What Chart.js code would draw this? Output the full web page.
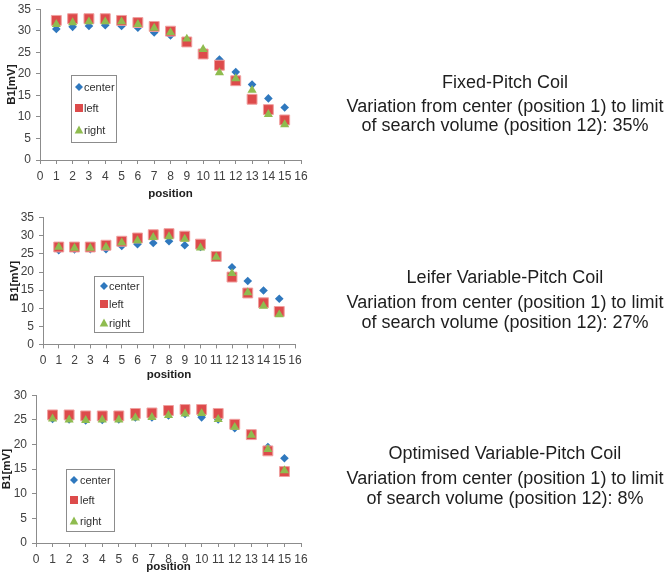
<!DOCTYPE html>
<html>
<head>
<meta charset="utf-8">
<script src="https://cdn.jsdelivr.net/npm/chart.js@4.4.0/dist/chart.umd.min.js"></script>
<style>
  body { margin: 0; background: #fff; width: 666px; height: 573px; overflow: hidden; position: relative; }
  canvas { position: absolute; left: 0; }
  .note { position: absolute; left: 305px; width: 400px; text-align: center; font: 18px 'Liberation Sans', Arial, sans-serif; color: #1e1e1e; line-height: 20px; white-space: nowrap; }
</style>
</head>
<body>
<canvas id="fixedChart"></canvas>
<canvas id="leiferChart"></canvas>
<canvas id="optChart"></canvas>

<div class="note" style="top:72px">Fixed-Pitch Coil</div>
<div class="note" style="top:96px">Variation from center (position 1) to limit</div>
<div class="note" style="top:115px">of search volume (position 12): 35%</div>

<div class="note" style="top:267px">Leifer Variable-Pitch Coil</div>
<div class="note" style="top:292px">Variation from center (position 1) to limit</div>
<div class="note" style="top:312px">of search volume (position 12): 27%</div>

<div class="note" style="top:443px">Optimised Variable-Pitch Coil</div>
<div class="note" style="top:468px">Variation from center (position 1) to limit</div>
<div class="note" style="top:488px">of search volume (position 12): 8%</div>

<script>
/* Data */
const positions = [1, 2, 3, 4, 5, 6, 7, 8, 9, 10, 11, 12, 13, 14, 15]
const seriesNames = ['center', 'left', 'right']

// Fixed-Pitch Coil
const fixedCenter = [30.4, 30.9, 31.1, 31.3, 31.1, 30.7, 29.6, 28.9, 27.6, 25.0, 23.3, 20.4, 17.5, 14.3, 12.2]
const fixedLeft   = [32.4, 32.8, 32.8, 32.8, 32.4, 31.9, 31.0, 29.9, 27.4, 24.6, 22.0, 18.4, 14.1, 11.7, 9.3]
const fixedRight  = [31.5, 31.9, 32.1, 32.1, 32.1, 31.5, 30.6, 29.6, 28.1, 25.7, 20.3, 18.9, 16.2, 10.6, 8.2]

// Leifer Variable-Pitch Coil
const leiferCenter = [26.0, 26.2, 26.3, 26.3, 27.2, 27.7, 28.0, 28.5, 27.4, 26.9, 24.2, 21.3, 17.5, 14.9, 12.6]
const leiferLeft   = [26.9, 26.9, 26.9, 27.4, 28.5, 29.4, 30.3, 30.6, 29.9, 27.7, 24.3, 18.6, 14.2, 11.5, 9.1]
const leiferRight  = [26.9, 26.6, 26.6, 26.9, 28.1, 28.7, 29.6, 29.8, 29.1, 26.7, 24.1, 19.6, 14.3, 10.6, 8.2]

// Optimised Variable-Pitch Coil
const optCenter = [25.2, 25.1, 24.9, 25.0, 25.1, 25.5, 25.5, 25.9, 26.2, 25.5, 25.1, 23.3, 21.9, 19.5, 17.2]
const optLeft   = [26.0, 26.0, 25.8, 25.8, 25.8, 26.3, 26.4, 26.9, 27.1, 27.1, 26.3, 24.1, 22.0, 18.7, 14.5]
const optRight  = [25.2, 25.0, 24.9, 25.0, 25.0, 25.4, 25.5, 25.9, 26.2, 26.3, 25.1, 23.5, 21.9, 19.0, 14.7]

const xTicks = [0, 16, 1]      // min, max, step
const yTicksTall = [0, 35, 5]
const yTicksShort = [0, 30, 5]


/* Styles */
const blue = '#2f78be'
const red = '#dd4b4b'
const green = '#8fbc4f'
const axisGray = '#8c8c8c'
const textGray = '#404040'
const fontFamily = "'Liberation Sans', Arial, sans-serif"

const toPoints = (values) => positions.map((p, i) => ({ x: p, y: values[i] }))

const makeDatasets = (center, left, right) => [
    { label: seriesNames[0], data: toPoints(center), pointStyle: 'rectRot', pointRadius: 4.3,
      backgroundColor: blue, borderColor: blue, borderWidth: 0, order: 2 },
    { label: seriesNames[1], data: toPoints(left), pointStyle: 'rect', pointRadius: 7,
      backgroundColor: red, borderColor: '#f0a0a0', borderWidth: 1, order: 1 },
    { label: seriesNames[2], data: toPoints(right), pointStyle: 'triangle', pointRadius: 5.3,
      backgroundColor: green, borderColor: green, borderWidth: 0, order: 0 },
]


/* Legend in a box, drawn inside the plot */
const markerColors = [blue, red, green]
const drawMarker = (ctx, kind, x, y) => {
    ctx.fillStyle = markerColors[kind]
    ctx.beginPath()
    if (kind == 0) {
        ctx.moveTo(x, y - 4); ctx.lineTo(x + 4, y); ctx.lineTo(x, y + 4); ctx.lineTo(x - 4, y)
    } else if (kind == 1) {
        ctx.rect(x - 4, y - 4, 8, 8)
    } else {
        ctx.moveTo(x, y - 4.5); ctx.lineTo(x + 4.3, y + 3.5); ctx.lineTo(x - 4.3, y + 3.5)
    }
    ctx.closePath()
    ctx.fill()
}

const boxLegend = {
    id: 'boxLegend',
    afterDraw(chart, args, opts) {
        const ctx = chart.ctx
        ctx.save()
        ctx.fillStyle = '#fff'
        ctx.fillRect(opts.x, opts.y, opts.w, opts.h)
        ctx.strokeStyle = axisGray
        ctx.lineWidth = 1
        ctx.strokeRect(opts.x + 0.5, opts.y + 0.5, opts.w, opts.h)
        ctx.font = '11px ' + fontFamily
        ctx.textBaseline = 'middle'
        seriesNames.forEach((name, i) => {
            const y = opts.rows[i]
            drawMarker(ctx, i, opts.marker, y)
            ctx.fillStyle = '#303030'
            ctx.fillText(name, opts.text, y + 0.5)
        })
        ctx.restore()
    }
}


/* Chart builder */
const initChart = (id, geo, datasets, yTicks, legendBox) => {
    const canvas = document.getElementById(id)
    canvas.style.top = geo.top + 'px'
    canvas.width = 320
    canvas.height = geo.height
    canvas.style.width = '320px'
    canvas.style.height = geo.height + 'px'

    return new Chart(canvas, {
        type: 'scatter',
        data: { datasets: datasets },
        plugins: [boxLegend],
        options: {
            responsive: false,
            animation: false,
            layout: { padding: { top: geo.padTop, right: geo.padRight, left: 0, bottom: 0 } },
            plugins: {
                legend: { display: false },
                tooltip: { enabled: false },
                boxLegend: legendBox,
            },
            scales: {
                x: {
                    type: 'linear',
                    min: xTicks[0], max: xTicks[1],
                    ticks: { stepSize: xTicks[2], autoSkip: false, maxRotation: 0, color: textGray, padding: 5,
                             font: { size: 12, family: fontFamily } },
                    grid: { drawOnChartArea: false, color: axisGray, tickLength: 4 },
                    border: { color: axisGray },
                    title: { display: true, text: 'position', color: '#202020', padding: 0,
                             font: { size: 11.5, weight: 'bold', family: fontFamily } },
                    afterFit: (scale) => { scale.height = geo.xHeight },
                },
                y: {
                    min: yTicks[0], max: yTicks[1],
                    ticks: { stepSize: yTicks[2], autoSkip: false, color: textGray, padding: 5,
                             font: { size: 12, family: fontFamily } },
                    grid: { drawOnChartArea: false, color: axisGray, tickLength: 4 },
                    border: { color: axisGray },
                    title: { display: true, text: 'B1[mV]', color: '#202020', padding: { top: geo.yTitlePad, bottom: 0 },
                             font: { size: 11.5, weight: 'bold', family: fontFamily } },
                    afterFit: (scale) => { scale.width = geo.yWidth },
                },
            },
        },
    })
}


/* Three coils */
initChart('fixedChart',
    { top: -3, height: 204, padTop: 7.5, padRight: 19, xHeight: 41, yWidth: 40, yTitlePad: 5.4 },
    makeDatasets(fixedCenter, fixedLeft, fixedRight), yTicksTall,
    { x: 71, y: 78, w: 45, h: 67, rows: [90, 111, 133], marker: 79, text: 84 })

initChart('leiferChart',
    { top: 205, height: 177, padTop: 12.7, padRight: 25, xHeight: 37.6, yWidth: 43, yTitlePad: 8.4 },
    makeDatasets(leiferCenter, leiferLeft, leiferRight), yTicksTall,
    { x: 94, y: 71, w: 49, h: 56, rows: [81, 99, 118], marker: 104, text: 109 })

initChart('optChart',
    { top: 383, height: 191, padTop: 10, padRight: 19, xHeight: 31, yWidth: 36, yTitlePad: 0 },
    makeDatasets(optCenter, optLeft, optRight), yTicksShort,
    { x: 66, y: 86, w: 48, h: 62, rows: [97, 117, 138], marker: 74, text: 80 })
</script>
</body>
</html>
